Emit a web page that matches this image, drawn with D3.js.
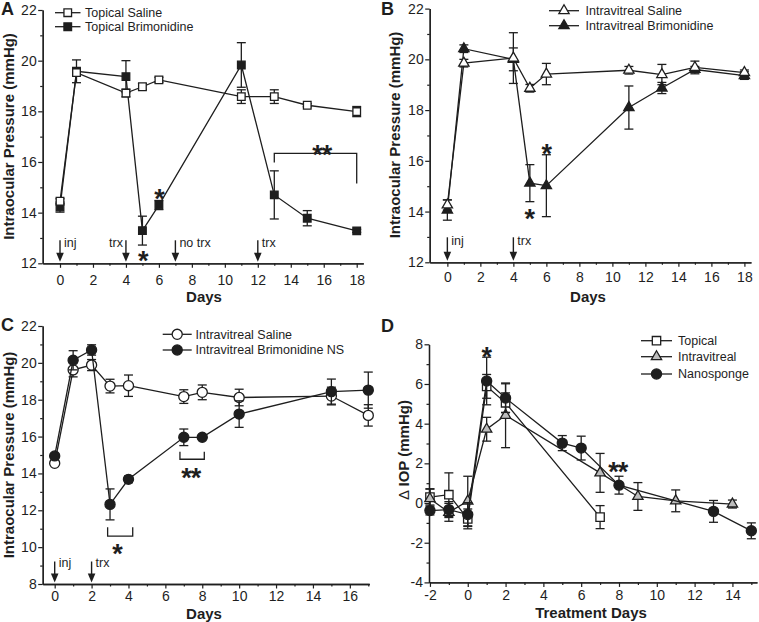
<!DOCTYPE html>
<html><head><meta charset="utf-8">
<script src="https://cdn.jsdelivr.net/npm/d3@7"></script>
<style>
body{margin:0;background:#fff}
svg text{font-family:"Liberation Sans",Arial,Helvetica,sans-serif;fill:#1e1e1e}
</style>
</head><body>
<svg id="chart" width="759" height="622" xmlns="http://www.w3.org/2000/svg"></svg>
<script>
// ---------------- DATA ----------------
// Panel A
const daysA = [0, 1, 4, 5, 6, 11, 13, 15, 18];
const salineA = [14.45, 19.53, 18.72, 18.97, 19.24, 18.58, 18.58, 18.24, 17.99];
const salineAErr = [0.1, 0.12, 0.15, 0.12, 0.1, 0.27, 0.27, 0.06, 0.2];
const brimA = [14.22, 19.58, 19.37, 13.29, 14.30, 19.83, 14.70, 13.78, 13.28];
const brimAErr = [0.2, 0.45, 0.63, 0.57, 0.18, 0.88, 0.95, 0.3, 0.06];
const arrowDaysA = [0, 4, 7, 12];
const arrowLabelsA = ["inj", "trx", "no trx", "trx"];
const legendA = ["Topical Saline", "Topical Brimonidine"];

// Panel B
const daysB = [0, 1, 4, 5, 6, 11, 13, 15, 18];
const salineB = [14.26, 19.85, 20.05, 18.86, 19.42, 19.57, 19.40, 19.68, 19.48];
const salineBErr = [0.2, 0.15, 1.0, 0.15, 0.42, 0.15, 0.4, 0.25, 0.1];
const brimB = [14.06, 20.42, 20.0, 15.12, 15.02, 18.1, 18.87, 19.6, 19.36];
const brimBErr = [0.4, 0.15, 0.45, 0.73, 1.22, 0.85, 0.22, 0.12, 0.15];
const arrowDaysB = [0, 4];
const arrowLabelsB = ["inj", "trx"];
const legendB = ["Intravitreal Saline", "Intravitreal Brimonidine"];

// Panel C
const daysC = [0, 1, 2, 3, 4, 7, 8, 10, 15, 17];
const salineC = [14.55, 19.62, 19.88, 18.74, 18.76, 18.17, 18.4, 18.12, 18.2, 17.15];
const salineCErr = [0.1, 0.38, 0.3, 0.37, 0.58, 0.37, 0.4, 0.45, 0.48, 0.58];
const brimC = [14.95, 20.14, 20.7, 12.32, 13.68, 15.96, 15.96, 17.22, 18.44, 18.52];
const brimCErr = [0.1, 0.52, 0.28, 0.84, 0.18, 0.45, 0.06, 0.72, 0.68, 0.98];
const arrowDaysC = [0, 2];
const arrowLabelsC = ["inj", "trx"];
const legendC = ["Intravitreal Saline", "Intravitreal Brimonidine NS"];

// Panel D
const daysTopD = [-2, -1, 0, 1, 2, 7];
const topD = [0.3, 0.42, -0.8, 5.88, 5.05, -0.71];
const topDErr = [0.4, 1.1, 0.5, 0.6, 0.5, 0.58];
const daysIntraD = [-2, -1, 0, 1, 2, 7, 9, 11, 14];
const intraD = [0.22, -0.47, 0.1, 3.72, 4.42, 1.52, 0.33, 0.11, -0.05];
const intraDErr = [0.5, 0.45, 1.25, 0.6, 1.63, 0.98, 0.7, 0.55, 0.2];
const daysNanoD = [-2, -1, 0, 1, 2, 5, 6, 8, 13, 15];
const nanoD = [-0.38, -0.33, -0.58, 6.15, 5.29, 3.02, 2.77, 0.9, -0.42, -1.4];
const nanoDErr = [0.22, 0.4, 0.6, 1.2, 0.72, 0.38, 0.6, 0.45, 0.55, 0.4];
const legendD = ["Topical", "Intravitreal", "Nanosponge"];

// ---------------- DRAWING ----------------
const ink = "#1e1e1e";
const svg = d3.select("#chart");
const FONT = '"Liberation Sans",Arial,Helvetica,sans-serif';
const fmt = d => String(d);

const symPaths = {
  square: d3.symbol(d3.symbolSquare, 58)(),
  squareL: d3.symbol(d3.symbolSquare, 70)(),
  triangle: d3.symbol(d3.symbolTriangle, 46)(),
  circle: d3.symbol(d3.symbolCircle, 80)()
};

function styleAxis(sel, fs) {
  sel.attr("font-family", FONT).attr("font-size", fs);
  sel.selectAll("path.domain").attr("stroke", ink).attr("stroke-width", 1.3);
  sel.selectAll(".tick line").attr("stroke", ink).attr("stroke-width", 1.2);
  sel.selectAll(".tick text").attr("fill", ink);
}

function makePanel(cfg) {
  const g = svg.append("g");
  const x = d3.scaleLinear().domain(cfg.xDomain).range(cfg.xRange);
  const y = d3.scaleLinear().domain(cfg.yDomain).range(cfg.yRange);
  const yb = cfg.yRange[0], xl = cfg.xRange[0];

  // minor ticks
  g.append("g").attr("transform", `translate(0,${yb})`)
    .call(d3.axisBottom(x).tickValues(cfg.xMinor).tickSize(2.5).tickSizeOuter(0).tickFormat(""))
    .call(s => styleAxis(s, 14));
  g.append("g").attr("transform", `translate(${xl},0)`)
    .call(d3.axisLeft(y).tickValues(cfg.yMinor).tickSize(2.5).tickSizeOuter(0).tickFormat(""))
    .call(s => styleAxis(s, 14));
  // major
  g.append("g").attr("transform", `translate(0,${yb})`)
    .call(d3.axisBottom(x).tickValues(cfg.xTicks).tickSize(4.5).tickSizeOuter(0).tickPadding(cfg.xPad).tickFormat(fmt))
    .call(s => styleAxis(s, 14));
  g.append("g").attr("transform", `translate(${xl},0)`)
    .call(d3.axisLeft(y).tickValues(cfg.yTicks).tickSize(4.5).tickSizeOuter(0).tickPadding(1.5).tickFormat(fmt))
    .call(s => styleAxis(s, 14));

  // axis titles
  g.append("text").attr("x", cfg.xLabelPos[0]).attr("y", cfg.xLabelPos[1])
    .attr("text-anchor", "middle").attr("font-weight", "bold").attr("font-size", 15).text(cfg.xLabel);
  const yl = g.append("text")
    .attr("transform", `translate(${cfg.yLabelPos[0]},${cfg.yLabelPos[1]}) rotate(-90)`)
    .attr("text-anchor", "middle").attr("font-weight", "bold").attr("font-size", 15);
  if (cfg.yLabelDelta) {
    yl.append("tspan").attr("font-weight", "normal").text("\u0394 ");
    yl.append("tspan").text(cfg.yLabel);
  } else yl.text(cfg.yLabel);

  // panel letter
  g.append("text").attr("x", cfg.letterPos[0]).attr("y", cfg.letterPos[1])
    .attr("font-weight", "bold").attr("font-size", 18).text(cfg.letter);

  // arrows
  if (cfg.arrows) {
    const a = cfg.arrows;
    a.days.forEach((d, i) => {
      const ax = x(d);
      const tip = yb - 1.5, top = yb - a.len;
      g.append("line").attr("x1", ax).attr("x2", ax).attr("y1", top).attr("y2", tip - 6)
        .attr("stroke", ink).attr("stroke-width", 1.4);
      g.append("path").attr("d", `M${ax - 3.8},${tip - 9}L${ax + 3.8},${tip - 9}L${ax},${tip}Z`).attr("fill", ink);
      const left = a.leftIdx && a.leftIdx.includes(i);
      g.append("text").attr("x", left ? ax - 3 : ax + 4).attr("y", yb - a.textUp)
        .attr("text-anchor", left ? "end" : "start").attr("font-size", 12.5).text(a.labels[i]);
    });
  }

  // series
  cfg.series.forEach(s => {
    const pts = s.days.map((d, i) => ({ d, v: s.vals[i], e: s.errs[i] }));
    const sg = g.append("g");
    sg.append("path").datum(pts)
      .attr("d", d3.line().x(p => x(p.d)).y(p => y(p.v)))
      .attr("fill", "none").attr("stroke", ink).attr("stroke-width", 1.3);
    const eb = sg.append("g").selectAll("g").data(pts).join("g")
      .attr("stroke", ink).attr("stroke-width", 1.3);
    eb.append("line").attr("x1", p => x(p.d)).attr("x2", p => x(p.d))
      .attr("y1", p => y(p.v - p.e)).attr("y2", p => y(p.v + p.e));
    eb.append("line").attr("x1", p => x(p.d) - 4.5).attr("x2", p => x(p.d) + 4.5)
      .attr("y1", p => y(p.v + p.e)).attr("y2", p => y(p.v + p.e));
    eb.append("line").attr("x1", p => x(p.d) - 4.5).attr("x2", p => x(p.d) + 4.5)
      .attr("y1", p => y(p.v - p.e)).attr("y2", p => y(p.v - p.e));
    sg.append("g").selectAll("path").data(pts).join("path")
      .attr("d", symPaths[s.sym])
      .attr("transform", p => `translate(${x(p.d)},${y(p.v)})`)
      .attr("fill", s.fill).attr("stroke", ink).attr("stroke-width", 1.3);
  });

  // legend
  const L = cfg.legend;
  L.items.forEach((it, i) => {
    const ly = L.y[i];
    g.append("line").attr("x1", L.x0).attr("x2", L.x1).attr("y1", ly).attr("y2", ly)
      .attr("stroke", ink).attr("stroke-width", 1.3);
    g.append("path").attr("d", symPaths[it.sym])
      .attr("transform", `translate(${(L.x0 + L.x1) / 2},${ly})`)
      .attr("fill", it.fill).attr("stroke", ink).attr("stroke-width", 1.3);
    g.append("text").attr("x", L.tx).attr("y", ly + 4.4).attr("font-size", 12.5).text(it.label);
  });

  // brackets
  (cfg.brackets || []).forEach(b => {
    g.append("path")
      .attr("d", `M${x(b.x0)},${y(b.y0)}L${x(b.x0)},${y(b.y)}L${x(b.x1)},${y(b.y)}L${x(b.x1)},${y(b.y1)}`)
      .attr("fill", "none").attr("stroke", ink).attr("stroke-width", 1.3);
  });
  // stars
  (cfg.stars || []).forEach(st => {
    g.append("text").attr("x", x(st.d)).attr("y", y(st.v) + 15.5)
      .attr("text-anchor", "middle").attr("font-weight", "bold").attr("font-size", 27)
      .attr("letter-spacing", st.t.length > 1 ? -1 : 0)
      .text(st.t);
  });
}

const oddA = d3.range(1, 18, 2);

makePanel({
  letter: "A", letterPos: [1, 15],
  xDomain: [-1.05, 18.4], xRange: [42.7, 363.3],
  yDomain: [12, 22], yRange: [263.3, 10],
  xTicks: d3.range(0, 19, 2), xMinor: oddA,
  yTicks: d3.range(12, 23, 2), yMinor: d3.range(13, 22, 2),
  xPad: 7, xLabel: "Days", xLabelPos: [204, 302],
  yLabel: "Intraocular Pressure (mmHg)", yLabelPos: [14, 136.5],
  arrows: { days: arrowDaysA, labels: arrowLabelsA, len: 23, textUp: 16.5, leftIdx: [1] },
  series: [
    { days: daysA, vals: brimA, errs: brimAErr, sym: "square", fill: ink },
    { days: daysA, vals: salineA, errs: salineAErr, sym: "square", fill: "#fff" }
  ],
  legend: { x0: 55, x1: 80.5, tx: 85, y: [12.7, 26.7],
    items: [{ label: legendA[0], sym: "square", fill: "#fff" }, { label: legendA[1], sym: "square", fill: ink }] },
  brackets: [{ x0: 13, x1: 18, y: 16.34, y0: 15.98, y1: 15.15 }],
  stars: [{ d: 15.88, v: 16.54, t: "**" }, { d: 6.04, v: 14.8, t: "*" }, { d: 5.05, v: 12.35, t: "*" }]
});

makePanel({
  letter: "B", letterPos: [381, 15],
  xDomain: [-1.07, 18.4], xRange: [429.7, 751],
  yDomain: [12, 22], yRange: [262.3, 8.6],
  xTicks: d3.range(0, 19, 2), xMinor: oddA,
  yTicks: d3.range(12, 23, 2), yMinor: d3.range(13, 22, 2),
  xPad: 5, xLabel: "Days", xLabelPos: [588, 302],
  yLabel: "Intraocular Pressure (mmHg)", yLabelPos: [399.5, 135],
  arrows: { days: arrowDaysB, labels: arrowLabelsB, len: 25, textUp: 17 },
  series: [
    { days: daysB, vals: brimB, errs: brimBErr, sym: "triangle", fill: ink },
    { days: daysB, vals: salineB, errs: salineBErr, sym: "triangle", fill: "#fff" }
  ],
  legend: { x0: 549, x1: 579, tx: 585.5, y: [10.7, 25.7],
    items: [{ label: legendB[0], sym: "triangle", fill: "#fff" }, { label: legendB[1], sym: "triangle", fill: ink }] },
  stars: [{ d: 6.02, v: 16.54, t: "*" }, { d: 4.99, v: 13.95, t: "*" }]
});

makePanel({
  letter: "C", letterPos: [1, 330.5],
  xDomain: [-0.65, 17.05], xRange: [42.7, 369.2],
  yDomain: [8, 22], yRange: [584, 326],
  xTicks: d3.range(0, 17, 2), xMinor: d3.range(1, 18, 2),
  yTicks: d3.range(8, 23, 2), yMinor: d3.range(9, 22, 2),
  xPad: 2.5, xLabel: "Days", xLabelPos: [204, 618.5],
  yLabel: "Intraocular Pressure (mmHg)", yLabelPos: [14, 455],
  arrows: { days: arrowDaysC, labels: arrowLabelsC, len: 22.5, textUp: 17.5 },
  series: [
    { days: daysC, vals: salineC, errs: salineCErr, sym: "circle", fill: "#fff" },
    { days: daysC, vals: brimC, errs: brimCErr, sym: "circle", fill: ink }
  ],
  legend: { x0: 162.7, x1: 191.7, tx: 195.5, y: [334.3, 350],
    items: [{ label: legendC[0], sym: "circle", fill: "#fff" }, { label: legendC[1], sym: "circle", fill: ink }] },
  brackets: [{ x0: 2.87, x1: 4.23, y: 10.6, y0: 11.08, y1: 11.08 },
             { x0: 6.79, x1: 8.11, y: 14.77, y0: 15.18, y1: 15.18 }],
  stars: [{ d: 3.4, v: 10.0, t: "*" }, { d: 7.37, v: 14.09, t: "**" }]
});

makePanel({
  letter: "D", letterPos: [381, 332],
  xDomain: [-2.05, 15.3], xRange: [429, 757],
  yDomain: [-4, 8], yRange: [582.4, 344.3],
  xTicks: d3.range(-2, 15, 2), xMinor: d3.range(-1, 16, 2),
  yTicks: d3.range(-4, 9, 2), yMinor: d3.range(-3, 8, 2),
  xPad: 3, xLabel: "Treatment Days", xLabelPos: [591, 618],
  yLabel: "IOP (mmHg)", yLabelDelta: true, yLabelPos: [408.5, 450],
  series: [
    { days: daysTopD, vals: topD, errs: topDErr, sym: "squareL", fill: "#fff" },
    { days: daysIntraD, vals: intraD, errs: intraDErr, sym: "triangle", fill: "#bdbdbd" },
    { days: daysNanoD, vals: nanoD, errs: nanoDErr, sym: "circle", fill: ink }
  ],
  legend: { x0: 641, x1: 672, tx: 678, y: [340.7, 356.7, 374],
    items: [{ label: legendD[0], sym: "squareL", fill: "#fff" },
            { label: legendD[1], sym: "triangle", fill: "#bdbdbd" },
            { label: legendD[2], sym: "circle", fill: ink }] },
  stars: [{ d: 1.0, v: 7.71, t: "*" }, { d: 7.94, v: 1.88, t: "**" }]
});
</script>
</body></html>
